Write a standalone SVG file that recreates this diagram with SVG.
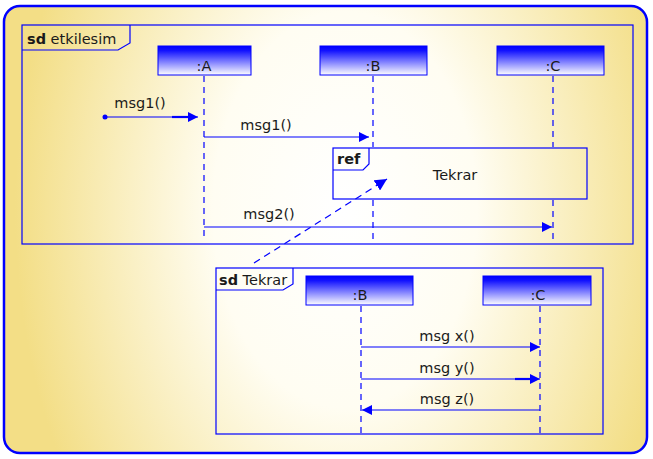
<svg xmlns="http://www.w3.org/2000/svg" width="653" height="459" viewBox="0 0 653 459">
<defs>
<radialGradient id="bg" cx="345" cy="210" r="330" gradientUnits="userSpaceOnUse" gradientTransform="translate(345 210) scale(1 1.5) translate(-345 -210)">
<stop offset="0" stop-color="#ffffff"/>
<stop offset="0.4" stop-color="#fffdf2"/>
<stop offset="1" stop-color="#f3de86"/>
</radialGradient>
<linearGradient id="head" x1="0" y1="0" x2="0" y2="1">
<stop offset="0" stop-color="#0000ff"/>
<stop offset="0.15" stop-color="#1010ff"/>
<stop offset="1" stop-color="#ffffff"/>
</linearGradient>
<marker id="arr" viewBox="0 0 10 10" refX="10" refY="5" markerWidth="10" markerHeight="10" markerUnits="userSpaceOnUse" orient="auto">
<path d="M0,0 L10,5 L0,10 z" fill="#0000ff"/>
</marker>
<marker id="arrB" viewBox="0 0 12 12" refX="12" refY="6" markerWidth="12" markerHeight="12" markerUnits="userSpaceOnUse" orient="auto">
<path d="M0,0 L12,6 L0,12 z" fill="#0000ff"/>
</marker>
</defs>
<style>
.frame{fill:none;stroke:#0000ff;stroke-width:1.2}
.head{fill:url(#head);stroke:#0000ff;stroke-width:1}
.life{stroke:#0000ff;stroke-width:1.2;stroke-dasharray:6,5;fill:none}
.msg{stroke:#0000ff;stroke-width:1.2;fill:none;marker-end:url(#arr)}
.t{font-family:"DejaVu Sans",Verdana,sans-serif;font-size:14.5px;fill:#1a1a1a}
.c{text-anchor:middle}
.b{font-weight:bold}
</style>
<rect x="4" y="6" width="643" height="447" rx="16" ry="16" fill="url(#bg)" stroke="#0000ff" stroke-width="2.5"/>

<g id="frame-etkilesim">
<rect class="frame" x="22" y="25" width="611" height="219"/>
<path class="frame" d="M22,50 L118,50 L130,43 L130,25"/>
<text class="t" x="27" y="44"><tspan class="b">sd</tspan> etkilesim</text>
</g>

<g id="lifeline-A">
<rect class="head" x="158" y="46" width="93" height="29"/>
<text class="t c" x="204" y="71">:A</text>
<line class="life" x1="204" y1="76" x2="204" y2="241"/>
</g>
<g id="lifeline-B">
<rect class="head" x="320" y="46" width="107" height="29"/>
<text class="t c" x="373" y="71">:B</text>
<line class="life" x1="373" y1="76" x2="373" y2="147"/>
<line class="life" x1="373" y1="200" x2="373" y2="241"/>
</g>
<g id="lifeline-C">
<rect class="head" x="497" y="46" width="107" height="29"/>
<text class="t c" x="553" y="71">:C</text>
<line class="life" x1="553" y1="76" x2="553" y2="147"/>
<line class="life" x1="553" y1="200" x2="553" y2="241"/>
</g>

<g id="ref-tekrar">
<rect class="frame" x="333" y="148" width="254" height="51"/>
<path class="frame" d="M333,170 L363,170 L369,164 L369,148"/>
<text class="t b" x="337" y="164">ref</text>
<text class="t c" x="455" y="180">Tekrar</text>
</g>

<g id="frame-tekrar">
<rect class="frame" x="216" y="268" width="387" height="166"/>
<path class="frame" d="M216,290 L283,290 L293,284 L293,268"/>
<text class="t" x="219" y="285"><tspan class="b">sd</tspan> Tekrar</text>
</g>
<g id="lifeline-B2">
<rect class="head" x="306" y="276" width="107" height="29"/>
<text class="t c" x="360" y="300">:B</text>
<line class="life" x1="361" y1="306" x2="361" y2="433"/>
</g>
<g id="lifeline-C2">
<rect class="head" x="483" y="276" width="108" height="29"/>
<text class="t c" x="538" y="300">:C</text>
<line class="life" x1="540" y1="306" x2="540" y2="433"/>
</g>

<g id="connectors">
<circle cx="105" cy="117" r="2.5" fill="#0000ff"/>
<line class="msg" x1="105" y1="117" x2="198" y2="117"/>
<line x1="172" y1="117" x2="190" y2="117" stroke="#0000ff" stroke-width="2.2"/>
<text class="t c" x="140" y="108">msg1()</text>

<line class="msg" x1="204" y1="137" x2="369" y2="137"/>
<text class="t c" x="266" y="130">msg1()</text>

<line class="msg" x1="204" y1="227" x2="552" y2="227"/>
<text class="t c" x="269" y="219">msg2()</text>

<line x1="254" y1="263" x2="387" y2="179" stroke="#0000ff" stroke-width="1.2" stroke-dasharray="7,5" marker-end="url(#arrB)"/>

<line class="msg" x1="361" y1="347" x2="540" y2="347"/>
<text class="t c" x="447" y="341">msg x()</text>

<line class="msg" x1="361" y1="379" x2="540" y2="379"/>
<line x1="515" y1="379" x2="532" y2="379" stroke="#0000ff" stroke-width="2.2"/>
<text class="t c" x="447" y="373">msg y()</text>

<line class="msg" x1="540" y1="410" x2="362" y2="410"/>
<text class="t c" x="447" y="404">msg z()</text>
</g>
</svg>
